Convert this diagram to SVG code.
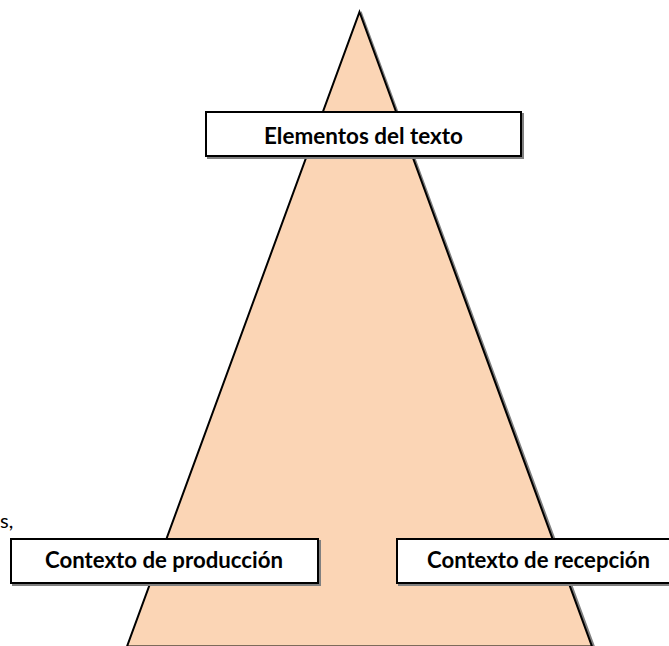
<svg xmlns="http://www.w3.org/2000/svg" width="669" height="646" viewBox="0 0 669 646">
<style>
.tri{fill:#FBD5B5;stroke:#000;stroke-width:2;stroke-linejoin:miter}
.sh{fill:#808080;stroke:#808080;stroke-width:2}
.box{fill:#fff;stroke:#000;stroke-width:2}
.lbl{font-family:Lato,"Open Sans","Liberation Sans",sans-serif;font-weight:bold;font-size:22px;fill:#000;text-anchor:middle}
.frag{font-family:Lato,"Liberation Sans",sans-serif;font-size:20px;fill:#000}
</style>
<rect width="669" height="646" fill="#fff"/>
<g id="pyramid">
<polygon class="sh" points="361.5,14 594.5,648 129.5,648"/>
<polygon class="tri" points="359.5,12 592,646.5 127,646.5"/>
</g>
<g id="connectors"></g>
<g id="n-elementos">
<rect class="sh" x="208" y="114" width="315" height="44"/>
<rect class="box" x="206" y="112" width="315" height="44"/>
<text class="lbl" x="363.5" y="144" textLength="199" lengthAdjust="spacingAndGlyphs">Elementos del texto</text>
</g>
<g id="n-produccion">
<rect class="sh" x="13" y="541" width="307" height="44"/>
<rect class="box" x="11" y="539" width="307" height="44"/>
<text class="lbl" x="164" y="568" textLength="238" lengthAdjust="spacingAndGlyphs">Contexto de producción</text>
</g>
<g id="n-recepcion">
<rect class="sh" x="399" y="541" width="290" height="44"/>
<rect class="box" x="397" y="539" width="290" height="44"/>
<text class="lbl" x="538.5" y="568" textLength="223" lengthAdjust="spacingAndGlyphs">Contexto de recepción</text>
</g>
<text class="frag" x="0" y="528">s,</text>
</svg>
